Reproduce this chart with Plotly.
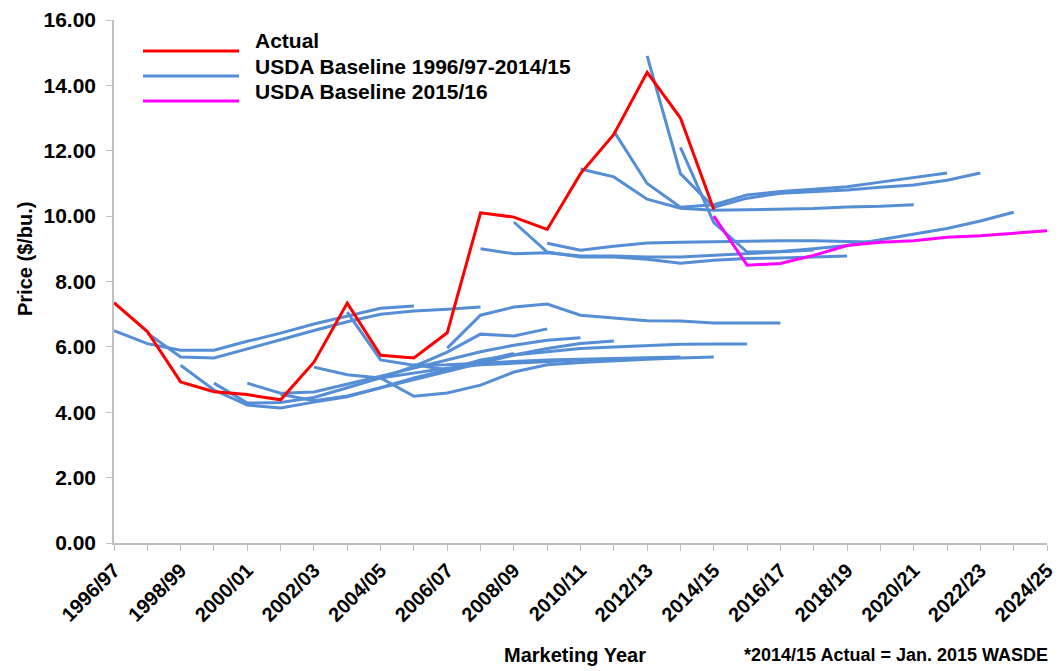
import plotly.graph_objects as go

# Marketing years on the category axis
years = [f"{y}/{str(y + 1)[-2:]}" for y in range(1996, 2025)]

# Season-average farm price, actual (2014/15 = Jan. 2015 WASDE)
actual = [7.35, 6.47, 4.93, 4.63, 4.54, 4.38, 5.53, 7.34, 5.74, 5.66,
          6.43, 10.10, 9.97, 9.59, 11.30, 12.50, 14.40, 13.00, 10.20]

# USDA baseline projections, each listed from its first marketing year
bl_1997 = [6.50, 6.10, 5.90, 5.90, 6.17, 6.42, 6.70, 6.95, 7.18, 7.25]
bl_1998 = [6.42, 5.69, 5.66, 5.93, 6.22, 6.50, 6.77, 7.00, 7.10, 7.15, 7.22]
bl_1999 = [5.44, 4.68, 4.22, 4.13, 4.31, 4.47, 4.75, 5.05, 5.30, 5.55, 5.80]
bl_2000 = [4.89, 4.28, 4.30, 4.45, 4.75, 5.05, 5.40, 5.84, 6.39, 6.33, 6.55]
bl_2001 = [4.89, 4.58, 4.62, 4.85, 5.10, 5.35, 5.60, 5.85, 6.05, 6.20, 6.28]
bl_2002 = [4.55, 4.35, 4.50, 4.75, 5.00, 5.25, 5.50, 5.75, 5.95, 6.10, 6.18]
bl_2003 = [5.38, 5.15, 5.05, 5.20, 5.35, 5.45, 5.50, 5.55, 5.60, 5.62, 5.65]
bl_2004 = [7.06, 5.60, 5.44, 5.45, 5.50, 5.55, 5.60, 5.62, 5.65, 5.68, 5.69]
bl_2005 = [5.05, 4.49, 4.59, 4.83, 5.23, 5.45, 5.52, 5.58, 5.62, 5.66, 5.69]
bl_2006 = [5.45, 5.30, 5.60, 5.75, 5.85, 5.95, 6.00, 6.05, 6.08, 6.09, 6.09]
bl_2007 = [5.96, 6.97, 7.22, 7.31, 6.97, 6.88, 6.80, 6.79, 6.73, 6.73, 6.73]
bl_2008 = [9.00, 8.85, 8.88, 8.78, 8.78, 8.75, 8.75, 8.80, 8.85, 8.90, 8.96]
bl_2009 = [9.82, 8.90, 8.75, 8.75, 8.68, 8.56, 8.65, 8.70, 8.72, 8.75, 8.78]
bl_2010 = [9.17, 8.96, 9.08, 9.18, 9.20, 9.22, 9.25, 9.25, 9.25, 9.22, 9.20]
bl_2011 = [11.44, 11.20, 10.52, 10.24, 10.18, 10.20, 10.22, 10.23, 10.28, 10.30, 10.35]
bl_2012 = [12.60, 11.00, 10.27, 10.35, 10.65, 10.75, 10.82, 10.90, 11.04, 11.18, 11.32]
bl_2013 = [14.90, 11.30, 10.27, 10.55, 10.70, 10.75, 10.80, 10.88, 10.95, 11.10, 11.32]
bl_2014 = [12.10, 9.80, 8.90, 8.92, 9.00, 9.10, 9.28, 9.45, 9.62, 9.85, 10.12]
bl_2015 = [10.00, 8.50, 8.55, 8.80, 9.10, 9.20, 9.25, 9.35, 9.40, 9.47, 9.55]

# (first marketing year, values)
past_baselines = [
    ("1996/97", bl_1997), ("1997/98", bl_1998), ("1998/99", bl_1999),
    ("1999/00", bl_2000), ("2000/01", bl_2001), ("2001/02", bl_2002),
    ("2002/03", bl_2003), ("2003/04", bl_2004), ("2004/05", bl_2005),
    ("2005/06", bl_2006), ("2006/07", bl_2007), ("2007/08", bl_2008),
    ("2008/09", bl_2009), ("2009/10", bl_2010), ("2010/11", bl_2011),
    ("2011/12", bl_2012), ("2012/13", bl_2013), ("2013/14", bl_2014),
]
current_baseline = ("2014/15", bl_2015)

legend_names = ["Actual", "USDA Baseline 1996/97-2014/15", "USDA Baseline 2015/16"]

BLUE = "#558ED5"
RED = "#FF0000"
MAGENTA = "#FF00FF"
AXIS_GRAY = "#BFBFBF"
FONT = "Liberation Sans, Arial, sans-serif"

W, H = 1061, 671
L, R, T, B = 114, 14, 20, 128
PW, PH = W - L - R, H - T - B


def px_to_paper(px, py):
    return (px - L) / PW, (H - B - py) / PH


def span(start, values):
    i = years.index(start)
    return years[i:i + len(values)]


fig = go.Figure()

for start, vals in past_baselines:
    fig.add_trace(go.Scatter(x=span(start, vals), y=vals, mode="lines",
                             line=dict(color=BLUE, width=3), showlegend=False,
                             hoverinfo="x+y"))

fig.add_trace(go.Scatter(x=span(current_baseline[0], current_baseline[1]),
                         y=current_baseline[1], mode="lines",
                         line=dict(color=MAGENTA, width=3), showlegend=False))

fig.add_trace(go.Scatter(x=years[:len(actual)], y=actual, mode="lines",
                         line=dict(color=RED, width=3), showlegend=False))

# Legend keys drawn as short line samples with labels
shapes = []
annotations = []
for (name, color, line_y, text_y) in zip(legend_names, [RED, BLUE, MAGENTA],
                                         [51, 76, 101], [40, 66, 91]):
    x0, y0 = px_to_paper(143, line_y)
    x1, _ = px_to_paper(239, line_y)
    shapes.append(dict(type="line", xref="paper", yref="paper",
                       x0=x0, x1=x1, y0=y0, y1=y0,
                       line=dict(color=color, width=3)))
    tx, ty = px_to_paper(253, text_y)
    annotations.append(dict(xref="paper", yref="paper", x=tx, y=ty,
                            xanchor="left", yanchor="middle", showarrow=False,
                            text=name,
                            font=dict(family=FONT, size=21, color="black",
                                      weight="bold")))

ax, ay = px_to_paper(575, 655)
annotations.append(dict(xref="paper", yref="paper", x=ax, y=ay,
                        xanchor="center", yanchor="middle", showarrow=False,
                        text="Marketing Year",
                        font=dict(family=FONT, size=20, color="black", weight="bold")))
fx, fy = px_to_paper(1050, 655)
annotations.append(dict(xref="paper", yref="paper", x=fx, y=fy,
                        xanchor="right", yanchor="middle", showarrow=False,
                        text="*2014/15 Actual = Jan. 2015 WASDE",
                        font=dict(family=FONT, size=18, color="black", weight="bold")))
yx, yy = px_to_paper(25, 259)
annotations.append(dict(xref="paper", yref="paper", x=yx, y=yy,
                        xanchor="center", yanchor="middle", showarrow=False,
                        textangle=-90, text="Price ($/bu.)",
                        font=dict(family=FONT, size=20, color="black", weight="bold")))

fig.update_layout(
    width=W, height=H,
    margin=dict(l=L, r=R, t=T, b=B, autoexpand=False),
    paper_bgcolor="white", plot_bgcolor="white",
    shapes=shapes, annotations=annotations,
    showlegend=False,
    xaxis=dict(type="category", categoryorder="array", categoryarray=years,
               range=[0, len(years) - 1],
               tickmode="array", tickvals=years,
               ticktext=[y if i % 2 == 0 else "" for i, y in enumerate(years)],
               tickangle=-45, ticks="outside", ticklen=6, tickcolor=AXIS_GRAY,
               showline=True, linecolor=AXIS_GRAY, linewidth=1.5,
               showgrid=False, zeroline=False,
               tickfont=dict(family=FONT, size=20, color="black", weight="bold")),
    yaxis=dict(range=[0, 16], dtick=2, tick0=0, tickformat=".2f",
               ticks="outside", ticklen=6, tickcolor=AXIS_GRAY,
               showline=True, linecolor=AXIS_GRAY, linewidth=1.5,
               showgrid=False, zeroline=False, ticklabelstandoff=6,
               tickfont=dict(family=FONT, size=21, color="black", weight="bold")),
)

fig.write_html("out.html")
